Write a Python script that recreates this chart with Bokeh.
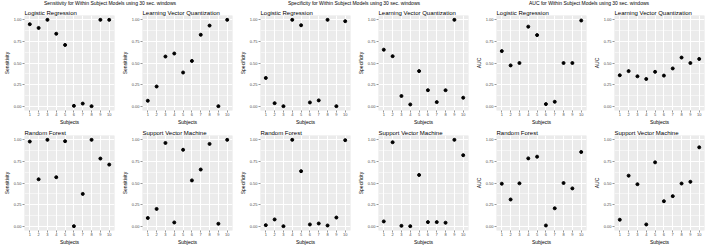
from bokeh.plotting import figure
from bokeh.layouts import row, column
from bokeh.models import Range1d, FixedTicker, Div, PrintfTickFormatter, BoxAnnotation
from bokeh.embed import file_html
from bokeh.resources import INLINE

subjects = [1, 2, 3, 4, 5, 6, 7, 8, 9, 10]
models = ["Logistic Regression", "Learning Vector Quantization",
          "Random Forest", "Support Vector Machine"]
group_titles = ["Sensitivity for Within Subject Models using 30 sec. windows",
                "Specificity for Within Subject Models using 30 sec. windows",
                "AUC for Within Subject Models using 30 sec. windows"]
y_labels = ["Sensitivity", "Specificity", "AUC"]
x_label = "Subjects"
y_ticks = [0.0, 0.25, 0.5, 0.75, 1.0]

# Sensitivity
sens_lr = [0.949, 0.906, 1.0, 0.839, 0.709, 0.004, 0.03, 0.0, 1.0, 1.0]
sens_lvq = [0.063, 0.228, 0.575, 0.61, 0.39, 0.524, 0.827, 0.933, 0.0, 1.0]
sens_rf = [0.98, 0.543, 1.0, 0.567, 0.984, 0.0, 0.374, 1.0, 0.783, 0.713]
sens_svm = [0.095, 0.2, 0.964, 0.043, 0.885, 0.53, 0.656, 0.953, 0.028, 1.0]
# Specificity
spec_lr = [0.327, 0.035, 0.0, 1.0, 0.937, 0.043, 0.067, 1.0, 0.0, 0.984]
spec_lvq = [0.654, 0.579, 0.118, 0.02, 0.406, 0.185, 0.047, 0.185, 1.0, 0.098]
spec_rf = [0.012, 0.078, 0.0, 1.0, 0.637, 0.02, 0.031, 0.008, 0.1, 0.996]
spec_svm = [0.055, 0.972, 0.004, 0.0, 0.593, 0.047, 0.047, 0.04, 1.0, 0.822]
# AUC
auc_lr = [0.638, 0.472, 0.5, 0.921, 0.823, 0.024, 0.051, 0.5, 0.5, 0.992]
auc_lvq = [0.358, 0.406, 0.346, 0.315, 0.398, 0.354, 0.437, 0.563, 0.5, 0.547]
auc_rf = [0.492, 0.309, 0.496, 0.785, 0.805, 0.008, 0.207, 0.5, 0.4375, 0.859]
auc_svm = [0.075, 0.585, 0.486, 0.02, 0.739, 0.289, 0.348, 0.494, 0.514, 0.913]

groups = [
    [sens_lr, sens_lvq, sens_rf, sens_svm],
    [spec_lr, spec_lvq, spec_rf, spec_svm],
    [auc_lr, auc_lvq, auc_rf, auc_svm],
]

FONT = "Liberation Sans"
PANEL_BG = "#EBEBEB"
PH = 120
HEAD_H = 7


def make_panel(title, ylabel, values, width, right_border):
    p = figure(width=width, height=PH, title=title,
               x_range=Range1d(0.4, 10.6), y_range=Range1d(-0.05, 1.05),
               output_backend="svg", toolbar_location=None,
               min_border_left=18, min_border_right=right_border,
               min_border_top=0, min_border_bottom=0)
    p.background_fill_color = PANEL_BG
    p.background_fill_alpha = 1.0
    p.border_fill_color = "white"
    p.outline_line_color = None
    # panel background drawn beneath the grid (covers the whole frame)
    p.add_layout(BoxAnnotation(fill_color=PANEL_BG, fill_alpha=1.0,
                               line_color=None, level="image"))
    p.title.text_font = FONT
    p.title.text_font_size = "6px"
    p.title.text_font_style = "normal"
    p.title.text_color = "black"
    p.title.align = "left"
    p.title.standoff = 0
    p.title.offset = 0

    p.xaxis.ticker = FixedTicker(ticks=subjects)
    p.yaxis.ticker = FixedTicker(ticks=y_ticks)
    p.yaxis.formatter = PrintfTickFormatter(format="%.2f")
    p.xgrid.ticker = FixedTicker(ticks=subjects)
    p.ygrid.ticker = FixedTicker(ticks=y_ticks,
                                 minor_ticks=[0.125, 0.375, 0.625, 0.875])
    for g in (p.xgrid, p.ygrid):
        g.grid_line_color = "white"
        g.grid_line_width = 1
    p.ygrid.minor_grid_line_color = "white"
    p.ygrid.minor_grid_line_width = 0.5

    for ax in (p.xaxis, p.yaxis):
        ax.axis_line_color = None
        ax.major_tick_line_color = "#333333"
        ax.major_tick_line_width = 0.5
        ax.major_tick_in = 0
        ax.major_tick_out = 2
        ax.minor_tick_line_color = None
        ax.major_label_text_font = FONT
        ax.major_label_text_font_size = "4px"
        ax.major_label_text_color = "#4D4D4D"
        ax.major_label_standoff = 1
        ax.axis_label_text_font = FONT
        ax.axis_label_text_font_size = "5px"
        ax.axis_label_text_font_style = "normal"
        ax.axis_label_text_color = "black"
        ax.axis_label_standoff = 1
    p.xaxis.major_label_standoff = 0
    p.xaxis.axis_label_standoff = 0
    p.xaxis.axis_label = x_label
    p.yaxis.axis_label = ylabel

    p.scatter(subjects, values, size=3, color="black")
    return p


cols = []
for gi, series in enumerate(groups):
    last = gi == len(groups) - 1
    widths = [118, 116 if last else 118]
    rights = [4, 2 if last else 4]
    panels = [make_panel(models[i], y_labels[gi], series[i],
                         widths[i % 2], rights[i % 2]) for i in range(4)]
    gw = sum(widths)
    styles = {"font-size": "5px", "text-align": "center",
              "font-family": FONT, "line-height": f"{HEAD_H}px",
              "color": "black", "width": f"{gw}px", "box-sizing": "border-box",
              "white-space": "nowrap"}
    if gi == 0:
        styles["padding-right"] = "16px"
    head = Div(text=group_titles[gi], width=gw, height=HEAD_H, margin=0,
               styles=styles)
    cols.append(column(head, row(panels[0], panels[1]),
                       row(panels[2], panels[3])))

layout = row(*cols)
open("out.html", "w").write(file_html(layout, INLINE))
